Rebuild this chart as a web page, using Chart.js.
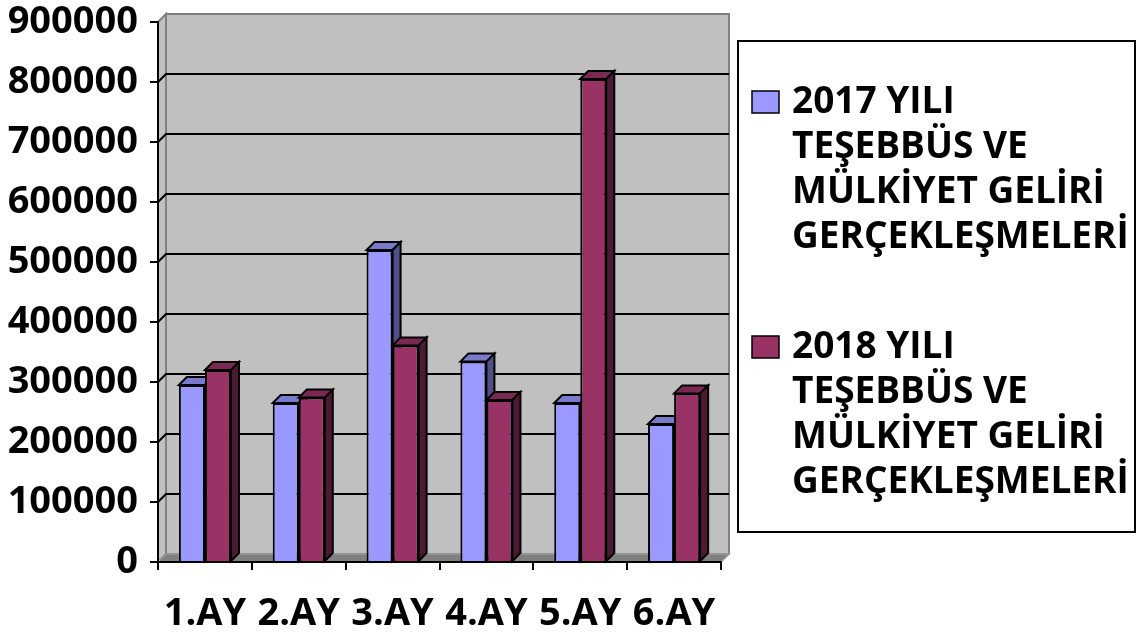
<!DOCTYPE html>
<html>
<head>
<meta charset="utf-8">
<script src="https://cdn.jsdelivr.net/npm/chart.js@4"></script>
<style>
  html, body { margin: 0; padding: 0; background: #fff; }
  #wrap { width: 1145px; height: 632px; }
</style>
</head>
<body>
<div id="wrap"><canvas id="chart" width="1145" height="632"></canvas></div>
<script>
'use strict';

const months = ['1.AY', '2.AY', '3.AY', '4.AY', '5.AY', '6.AY'];
const gelir2017 = [295000, 265000, 520000, 334000, 265000, 230000];
const gelir2018 = [320000, 274000, 361000, 270000, 805000, 281000];
const yTicks = [0, 100000, 200000, 300000, 400000, 500000, 600000, 700000, 800000, 900000];
const label2017 = ['2017 YILI', 'TEŞEBBÜS VE', 'MÜLKİYET GELİRİ', 'GERÇEKLEŞMELERİ'];
const label2018 = ['2018 YILI', 'TEŞEBBÜS VE', 'MÜLKİYET GELİRİ', 'GERÇEKLEŞMELERİ'];

const FONT = '"Open Sans"';
const D = 8; // 3d depth

// faces: front, top, side
const shades = [
  ['#9999FF', '#7A7ACC', '#505088'],
  ['#993366', '#7A2952', '#4D1A33']
];

function poly(ctx, pts, fill, stroke, lw) {
  ctx.beginPath();
  ctx.moveTo(pts[0][0], pts[0][1]);
  for (let i = 1; i < pts.length; i++) ctx.lineTo(pts[i][0], pts[i][1]);
  ctx.closePath();
  if (fill) { ctx.fillStyle = fill; ctx.fill(); }
  if (stroke) { ctx.strokeStyle = stroke; ctx.lineWidth = lw; ctx.stroke(); }
}

const walls = {
  id: 'walls',
  beforeDraw(chart) {
    const ctx = chart.ctx;
    const a = chart.chartArea;
    const ys = chart.scales.y;
    ctx.save();
    ctx.lineJoin = 'miter';
    // back wall
    poly(ctx, [[a.left + D, a.top - D], [a.right + D, a.top - D], [a.right + D, a.bottom - D], [a.left + D, a.bottom - D]], '#C0C0C0', '#808080', 2);
    // side wall
    poly(ctx, [[a.left, a.top], [a.left + D, a.top - D], [a.left + D, a.bottom - D], [a.left, a.bottom]], '#C0C0C0', '#808080', 2);
    // floor
    poly(ctx, [[a.left, a.bottom], [a.left + D, a.bottom - D], [a.right + D, a.bottom - D], [a.right, a.bottom]], '#808080', '#999999', 1.5);
    // grid on the walls
    ctx.strokeStyle = '#000';
    ctx.lineWidth = 2;
    yTicks.forEach(v => {
      if (v === 0 || v === yTicks[yTicks.length - 1]) return;
      const py = ys.getPixelForValue(v);
      ctx.beginPath();
      ctx.moveTo(a.left, py);
      ctx.lineTo(a.left + D, py - D);
      ctx.lineTo(a.right + D, py - D);
      ctx.stroke();
    });
    ctx.restore();
  },
  beforeDatasetsDraw(chart) {
    const ctx = chart.ctx;
    const metas = chart.data.datasets.map((d, i) => chart.getDatasetMeta(i));
    ctx.save();
    ctx.lineJoin = 'miter';
    for (let i = 0; i < months.length; i++) {
      metas.forEach((meta, di) => {
        const bar = meta.data[i];
        const p = bar.getProps(['x', 'y', 'base', 'width'], true);
        const l = p.x - p.width / 2, r = p.x + p.width / 2;
        const t = p.y, b = p.base;
        poly(ctx, [[l, t], [l + D, t - D], [r + D, t - D], [r, t]], shades[di][1], '#000', 2);
        poly(ctx, [[r, t], [r + D, t - D], [r + D, b - D], [r, b]], shades[di][2], '#000', 2);
        bar.draw(ctx, chart.chartArea);
      });
    }
    ctx.restore();
    return false;
  },
  afterDraw(chart) {
    const ctx = chart.ctx;
    ctx.save();
    ctx.strokeStyle = '#000';
    ctx.lineWidth = 2;
    ctx.strokeRect(738, 41, 397, 491);
    const groups = [label2017, label2018];
    const starts = [102, 347];
    ctx.font = 'bold 37px ' + FONT;
    ctx.textBaseline = 'middle';
    ctx.textAlign = 'left';
    groups.forEach((lines, gi) => {
      ctx.fillStyle = shades[gi][0];
      ctx.fillRect(752, starts[gi] - 11, 27, 22);
      ctx.lineWidth = 1.5;
      ctx.strokeRect(752, starts[gi] - 11, 27, 22);
      ctx.fillStyle = '#000';
      lines.forEach((ln, k) => ctx.fillText(ln, 792, starts[gi] + k * 45));
    });
    ctx.restore();
  }
};

new Chart(document.getElementById('chart'), {
  type: 'bar',
  data: {
    labels: months,
    datasets: [
      { label: label2017.join(' '), data: gelir2017, backgroundColor: shades[0][0], borderColor: '#000', borderWidth: 2 },
      { label: label2018.join(' '), data: gelir2018, backgroundColor: shades[1][0], borderColor: '#000', borderWidth: 2 }
    ]
  },
  options: {
    responsive: false,
    animation: false,
    layout: { padding: { top: 22, right: 424, left: 0, bottom: 0 } },
    datasets: { bar: { barPercentage: 1, categoryPercentage: 0.555 } },
    plugins: { legend: { display: false }, tooltip: { enabled: false } },
    scales: {
      x: {
        grid: { drawOnChartArea: false, color: '#000', lineWidth: 2, tickLength: 8, offset: true },
        border: { color: '#000', width: 2 },
        ticks: { color: '#000', font: { family: FONT, size: 38, weight: 'bold', lineHeight: 1 }, padding: 25, maxRotation: 0, autoSkip: false },
        afterFit(s) { s.height = 70; }
      },
      y: {
        min: 0, max: 900000,
        afterBuildTicks(s) { s.ticks = yTicks.map(v => ({ value: v })); },
        grid: { drawOnChartArea: false, color: '#000', lineWidth: 2, tickLength: 8 },
        border: { color: '#000', width: 2 },
        ticks: { color: '#000', font: { family: FONT, size: 38, weight: 'bold', lineHeight: 0.4 }, padding: 12, callback: v => String(v) },
        afterFit(s) { s.width = 158; }
      }
    }
  },
  plugins: [walls]
});
</script>
</body>
</html>
